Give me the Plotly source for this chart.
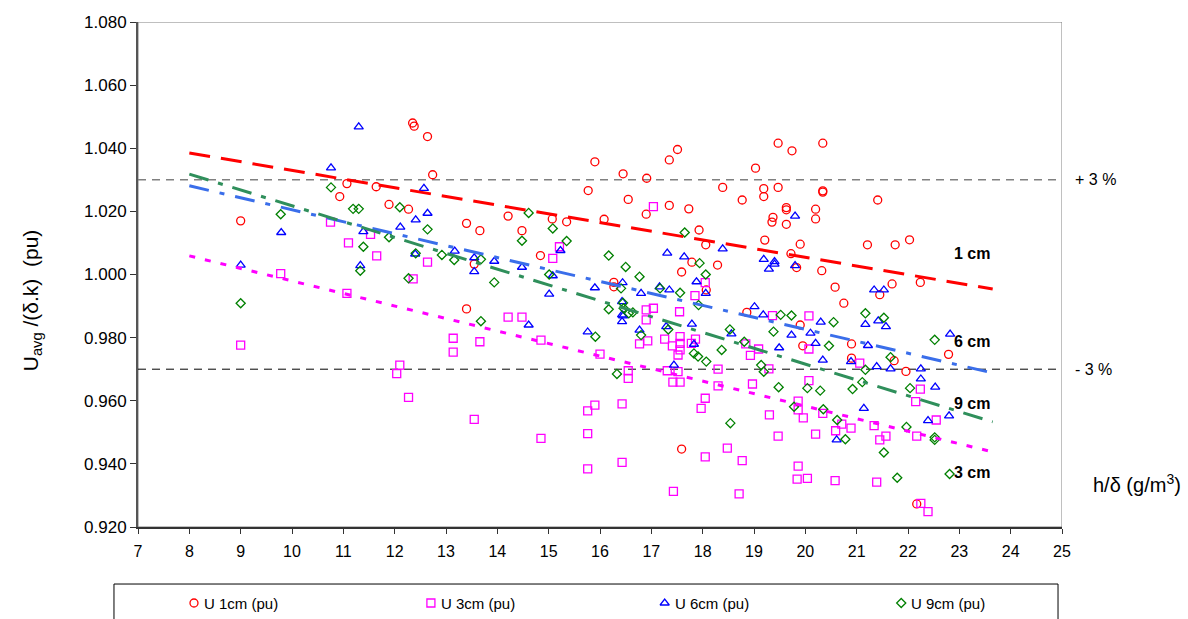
import plotly.graph_objects as go

# ---- measured points: h/delta (g/m^3) vs normalised U_avg/(delta.k) (pu) ----
h_1cm = [9.00, 10.93, 11.07, 11.64, 11.89, 12.27, 12.35, 12.38, 12.64, 12.74, 13.40, 13.66, 13.55, 13.40,
         14.21, 14.48, 15.07, 15.35, 14.84, 15.77, 15.90, 16.08, 16.45, 16.55, 16.90, 16.91, 17.35, 17.51,
         17.35, 17.73, 17.93, 18.06, 17.79, 17.59, 18.29, 16.27, 16.27, 18.07, 18.86, 18.39, 18.77, 17.59,
         19.47, 19.74, 20.34, 19.03, 19.19, 19.19, 19.47, 20.34, 20.34, 21.41, 19.63, 19.63, 20.20, 19.37,
         19.35, 20.20, 19.63, 19.21, 19.90, 21.21, 21.75, 22.03, 19.72, 19.83, 20.32, 20.58, 20.75, 21.45,
         21.69, 22.24, 19.90, 19.95, 20.90, 20.90, 21.73, 21.96, 22.79, 22.17]
u_1cm = [1.0170, 1.0247, 1.0288, 1.0278, 1.0222, 1.0207, 1.0480, 1.0470, 1.0437, 1.0316, 1.0162, 1.0139, 1.0033, 0.9891,
         1.0185, 1.0139, 1.0176, 1.0167, 1.0060, 1.0266, 1.0357, 1.0175, 1.0319, 1.0238, 1.0191, 1.0305, 1.0363, 1.0396,
         1.0219, 1.0208, 1.0141, 1.0094, 1.0039, 1.0008, 1.0030, 0.9975, 0.9961, 0.9951, 0.9880, 1.0276, 1.0236, 0.9447,
         1.0416, 1.0392, 1.0416, 1.0337, 1.0272, 1.0247, 1.0276, 1.0265, 1.0261, 1.0236, 1.0212, 1.0205, 1.0207, 1.0181,
         1.0166, 1.0176, 1.0159, 1.0109, 1.0096, 1.0094, 1.0094, 1.0110, 1.0066, 1.0022, 1.0012, 0.9960, 0.9909, 0.9936,
         0.9970, 0.9975, 0.9840, 0.9774, 0.9780, 0.9735, 0.9727, 0.9693, 0.9747, 0.9273]

h_3cm = [9.00, 9.78, 10.75, 11.07, 11.10, 11.53, 11.65, 12.04, 12.10, 12.27, 12.36, 12.64, 13.14, 13.14, 13.55,
         13.66, 14.21, 14.48, 14.85, 14.85, 15.08, 15.21, 15.76, 15.90, 15.76, 15.76, 16.00, 16.43, 16.43, 16.55,
         16.55, 16.77, 16.90, 16.90, 16.93, 17.04, 17.04, 17.26, 17.31, 17.41, 17.42, 17.43, 17.52, 17.52, 17.55,
         17.56, 17.56, 17.56, 17.56, 17.78, 17.85, 17.86, 17.97, 18.05, 18.05, 18.05, 18.30, 18.30, 18.48, 18.71,
         18.77, 18.84, 18.93, 18.97, 19.09, 19.29, 19.30, 19.36, 19.47, 19.84, 19.86, 19.86, 19.86, 19.96, 20.04,
         20.07, 20.07, 20.07, 20.20, 20.34, 20.58, 20.59, 20.71, 20.89, 21.06, 21.34, 21.39, 21.45, 21.57, 22.15,
         22.17, 22.24, 22.25, 22.39, 22.55]
u_3cm = [0.9776, 1.0003, 1.0166, 0.9940, 1.0100, 1.0127, 1.0059, 0.9686, 0.9713, 0.9611, 0.9986, 1.0039, 0.9798, 0.9754, 0.9541,
         0.9787, 0.9865, 0.9865, 0.9792, 0.9481, 1.0051, 1.0088, 0.9568, 0.9586, 0.9496, 0.9384, 0.9748, 0.9590, 0.9405, 0.9695,
         0.9671, 0.9780, 0.9888, 0.9856, 0.9790, 0.9893, 1.0215, 0.9795, 0.9695, 0.9774, 0.9659, 0.9313, 0.9745, 0.9692, 0.9882,
         0.9803, 0.9782, 0.9761, 0.9659, 0.9782, 0.9933, 0.9795, 0.9576, 0.9974, 0.9608, 0.9422, 0.9700, 0.9647, 0.9450, 0.9305,
         0.9410, 0.9780, 0.9744, 0.9653, 0.9764, 0.9701, 0.9555, 0.9870, 0.9488, 0.9352, 0.9599, 0.9571, 0.9393, 0.9546, 0.9354,
         0.9869, 0.9764, 0.9664, 0.9494, 0.9560, 0.9347, 0.9505, 0.9526, 0.9513, 0.9719, 0.9521, 0.9342, 0.9476, 0.9488, 0.9597,
         0.9488, 0.9637, 0.9275, 0.9249, 0.9539]

h_6cm = [9.00, 9.79, 10.76, 11.30, 11.33, 11.39, 12.11, 12.40, 12.41, 12.57, 12.64, 13.17, 13.55, 13.55, 13.94,
         14.48, 14.61, 15.01, 15.08, 15.23, 15.76, 15.90, 16.43, 16.43, 16.43, 16.45, 16.44, 16.77, 16.80, 17.16,
         17.29, 17.31, 17.35, 17.44, 17.64, 17.79, 17.83, 17.88, 18.06, 18.39, 18.56, 19.01, 19.18, 19.19, 19.29,
         19.40, 19.40, 19.49, 19.73, 19.80, 19.80, 20.10, 20.20, 20.30, 20.34, 20.61, 20.89, 21.14, 21.17, 21.22,
         21.34, 21.39, 21.42, 21.53, 21.57, 21.66, 22.25, 22.25, 22.39, 22.53, 22.80, 22.82]
u_6cm = [1.0030, 1.0133, 1.0338, 1.0468, 1.0028, 1.0136, 1.0150, 1.0065, 1.0173, 1.0273, 1.0194, 1.0074, 1.0053, 1.0009, 1.0042,
         1.0023, 0.9840, 0.9938, 0.9996, 1.0076, 0.9818, 0.9958, 0.9914, 0.9872, 0.9851, 0.9869, 0.9974, 0.9824, 0.9940, 0.9961,
         0.9835, 1.0068, 0.9951, 0.9713, 1.0056, 0.9843, 0.9779, 0.9977, 0.9940, 1.0081, 0.9812, 0.9898, 0.9872, 1.0048, 1.0017,
         1.0041, 1.0033, 0.9768, 0.9808, 1.0185, 1.0028, 0.9814, 0.9782, 0.9849, 0.9729, 0.9476, 0.9724, 0.9576, 0.9842, 0.9775,
         0.9951, 0.9708, 0.9853, 0.9951, 0.9835, 0.9701, 0.9701, 0.9669, 0.9537, 0.9643, 0.9552, 0.9811]

h_9cm = [9.00, 9.78, 10.76, 11.19, 11.30, 11.33, 11.39, 11.89, 12.10, 12.27, 12.41, 12.64, 12.92, 13.16, 13.68,
         13.68, 13.94, 14.48, 14.61, 15.01, 15.08, 15.35, 15.91, 16.17, 16.17, 16.33, 16.41, 16.45, 16.46, 16.50,
         16.56, 16.64, 16.77, 16.80, 17.17, 17.33, 17.56, 17.65, 17.83, 17.91, 17.92, 17.94, 18.06, 18.07, 18.37,
         18.53, 18.54, 18.81, 19.14, 19.19, 19.38, 19.48, 19.52, 19.73, 19.78, 20.04, 20.29, 20.35, 20.46, 20.55,
         20.62, 20.78, 20.92, 21.11, 21.17, 21.17, 21.53, 21.53, 21.66, 21.79, 21.97, 22.04, 22.52, 22.52, 22.52,
         22.81]
u_9cm = [0.9909, 1.0191, 1.0276, 1.0208, 1.0208, 1.0012, 1.0088, 1.0118, 1.0213, 0.9988, 1.0067, 1.0143, 1.0062, 1.0046, 1.0048,
         0.9852, 0.9975, 1.0107, 1.0195, 1.0000, 1.0146, 1.0106, 0.9803, 1.0060, 0.9890, 0.9685, 0.9956, 0.9910, 0.9893, 1.0024,
         0.9877, 0.9880, 0.9993, 0.9808, 0.9956, 0.9826, 0.9942, 1.0133, 0.9750, 0.9740, 0.9903, 1.0036, 1.0000, 0.9724, 0.9761,
         0.9826, 0.9529, 0.9787, 0.9713, 0.9692, 0.9819, 0.9643, 0.9872, 0.9870, 0.9581, 0.9640, 0.9632, 0.9573, 0.9774, 0.9849,
         0.9539, 0.9478, 0.9637, 0.9659, 0.9877, 0.9698, 0.9863, 0.9436, 0.9738, 0.9356, 0.9517, 0.9640, 0.9793, 0.9484, 0.9476,
         0.9368]

# linear trend lines (end values at the first and last h/delta)
trend_h = [8.0, 23.65]
trend_1cm = [1.0385, 0.9954]
trend_3cm = [1.0059, 0.9438]
trend_6cm = [1.0281, 0.9688]
trend_9cm = [1.0318, 0.9533]

# +/- 3 % tolerance band
band_h = [7, 25]
band_upper = 1.03
band_lower = 0.97

x_ticks = list(range(7, 26))
y_ticks = [0.92, 0.94, 0.96, 0.98, 1.00, 1.02, 1.04, 1.06, 1.08]

series_names = ["U 1cm (pu)", "U 3cm (pu)", "U 6cm (pu)", "U 9cm (pu)"]
trend_labels = ["1 cm", "3 cm", "6 cm", "9 cm"]

FONT = "Arial, Liberation Sans, sans-serif"
RED, MAGENTA, BLUE, GREEN = "#FF0000", "#FF00FF", "#0000FF", "#008000"

marker_styles = [
    dict(symbol="circle-open", size=8, color=RED, line=dict(width=1.3, color=RED)),
    dict(symbol="square-open", size=8, color=MAGENTA, line=dict(width=1.3, color=MAGENTA)),
    dict(symbol="triangle-up-open", size=8, color=BLUE, line=dict(width=1.3, color=BLUE)),
    dict(symbol="diamond-open", size=7, color=GREEN, line=dict(width=1.3, color=GREEN)),
]

fig = go.Figure()

# tolerance band lines
fig.add_trace(go.Scatter(x=band_h, y=[band_upper] * 2, mode="lines", hoverinfo="skip",
                         line=dict(color="#808080", width=1.5, dash="8px,6px")))
fig.add_trace(go.Scatter(x=band_h, y=[band_lower] * 2, mode="lines", hoverinfo="skip",
                         line=dict(color="#000000", width=1, dash="8px,6px")))

# scatter series
for hx, uy, name, ms in zip([h_1cm, h_3cm, h_6cm, h_9cm], [u_1cm, u_3cm, u_6cm, u_9cm],
                            series_names, marker_styles):
    fig.add_trace(go.Scatter(x=hx, y=uy, mode="markers", name=name, marker=ms))

# trend lines
trend_styles = [
    (trend_1cm, "#FF0000", "21px,11px"),
    (trend_6cm, "#3A6EEA", "20px,11px,5px,11px"),
    (trend_9cm, "#2F8F5B", "20px,10px,5px,10px"),
    (trend_3cm, "#FF00FF", "6px,10px"),
]
for ty, col, dash in trend_styles:
    fig.add_trace(go.Scatter(x=trend_h, y=ty, mode="lines", hoverinfo="skip",
                             line=dict(color=col, width=3, dash=dash)))

# trend labels placed just right of the line ends
label_pos = {"1 cm": 1.0065, "6 cm": 0.9789, "9 cm": 0.9590, "3 cm": 0.9374}
for lab in trend_labels:
    fig.add_annotation(x=22.86, y=label_pos[lab], text="<b>%s</b>" % lab, showarrow=False,
                       xanchor="left", yanchor="middle", font=dict(family=FONT, size=16, color="#000"))

# legend row drawn on its own small axis below the chart
leg_x = [0.0606, 0.317, 0.570, 0.826]
for lx, name, ms in zip(leg_x, series_names, marker_styles):
    fig.add_trace(go.Scatter(x=[lx], y=[0.5], mode="markers", marker=ms, xaxis="x2", yaxis="y2",
                             hoverinfo="skip"))
    fig.add_annotation(x=lx + 0.0085, y=0.5, xref="x2", yref="y2", text=name, showarrow=False,
                       xanchor="left", yanchor="middle", font=dict(family=FONT, size=15, color="#000"))

# legend frame
fig.add_shape(type="rect", xref="paper", yref="paper", x0=-0.026, x1=0.9957, y0=-0.05, y1=0.0586,
              line=dict(color="#000", width=1), fillcolor="rgba(0,0,0,0)")

# plot-area frame (top/right in grey)
fig.add_shape(type="rect", xref="x", yref="y", x0=7, x1=25, y0=0.92, y1=1.08,
              line=dict(color="#808080", width=1), layer="below")

# side texts
fig.add_annotation(xref="paper", yref="y", x=1.012, y=band_upper, text="+ 3 %", showarrow=False,
                   xanchor="left", yanchor="middle", font=dict(family=FONT, size=16, color="#000"))
fig.add_annotation(xref="paper", yref="y", x=1.012, y=band_lower, text="- 3 %", showarrow=False,
                   xanchor="left", yanchor="middle", font=dict(family=FONT, size=16, color="#000"))
fig.add_annotation(xref="paper", yref="paper", x=1.031, y=0.2265, text="h/δ (g/m<sup>3</sup>)",
                   showarrow=False, xanchor="left", yanchor="middle",
                   font=dict(family=FONT, size=20, color="#000"))
fig.add_annotation(xref="paper", yref="paper", x=-0.1147, y=0.534,
                   text="U<sub>avg</sub> /(δ.k)  (pu)", showarrow=False, textangle=-90,
                   xanchor="center", yanchor="middle", font=dict(family=FONT, size=21, color="#000"))

fig.update_layout(
    width=1188, height=619,
    margin=dict(l=138, r=126, t=22, b=0, autoexpand=False),
    paper_bgcolor="white", plot_bgcolor="white",
    showlegend=False,
    font=dict(family=FONT, color="#000"),
    xaxis=dict(range=[7, 25], tickvals=x_ticks, ticks="outside", ticklen=5, tickwidth=1,
               tickcolor="#333", showline=True, linecolor="#333", linewidth=2, showgrid=False,
               zeroline=False, tickfont=dict(size=16, family=FONT), anchor="y",
               ticklabelstandoff=4, automargin=False),
    yaxis=dict(range=[0.92, 1.08], tickvals=y_ticks, tickformat=".3f", ticks="outside", ticklen=6,
               tickwidth=1, tickcolor="#333", showline=True, linecolor="#555", linewidth=2,
               showgrid=False, zeroline=False, tickfont=dict(size=17, family=FONT),
               domain=[0.1541, 1], anchor="x", automargin=False),
    xaxis2=dict(range=[0, 1], domain=[0, 1], visible=False, anchor="y2", fixedrange=True),
    yaxis2=dict(range=[0, 1], domain=[0, 0.0536], visible=False, anchor="x2", fixedrange=True),
)

fig.write_html("out.html")
